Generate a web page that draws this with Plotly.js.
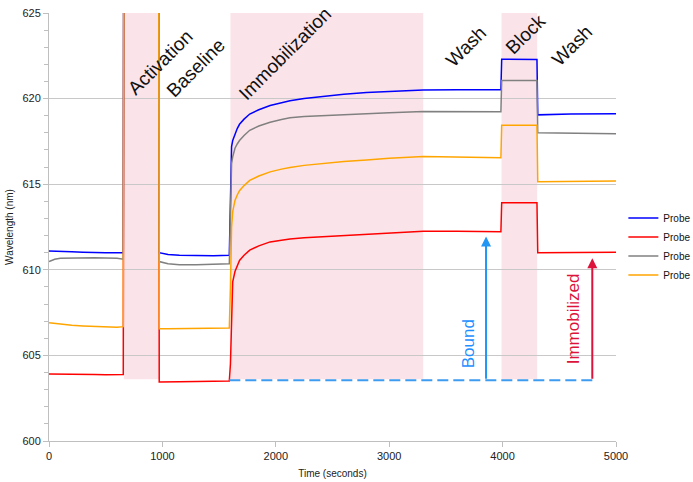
<!DOCTYPE html>
<html>
<head>
<meta charset="utf-8">
<script src="https://cdn.plot.ly/plotly-3.0.1.min.js"></script>
<style>html,body{margin:0;padding:0;background:#fff;}#chart{width:693px;height:482px;}</style>
</head>
<body>
<div id="chart"></div>
<script>
// Time (seconds)
const timeSec = [0, 50, 100, 200, 300, 400, 500, 600, 655, 661, 967, 972, 1050, 1150, 1300, 1450,
  1590, 1600, 1610, 1620, 1640, 1660, 1680, 1720, 1770, 1850, 1950, 2050, 2125, 2250, 2400, 2600, 2800, 3000, 3300,
  3600, 3985, 3992, 4303, 4310, 4600, 5000];
// Wavelength (nm) per probe
const probeBlue   = [611.1, 611.08, 611.07, 611.05, 611.03, 611.0, 611.0, 610.99, 611.0, 640, 640, 611.0, 610.9, 610.85, 610.83, 610.82,
  610.85, 614.0, 617.2, 617.55, 617.95, 618.25, 618.5, 618.8, 619.1, 619.35, 619.6, 619.76, 619.87, 620.0, 620.12, 620.25, 620.35, 620.42, 620.5,
  620.52, 620.52, 622.3, 622.28, 619.05, 619.1, 619.12];
const probeRed    = [603.92, 603.91, 603.9, 603.9, 603.89, 603.88, 603.87, 603.86, 603.88, 640, 640, 603.45, 603.44, 603.46, 603.47, 603.48,
  603.5, 604.5, 607.0, 609.3, 609.9, 610.28, 610.55, 610.85, 611.15, 611.4, 611.63, 611.73, 611.8, 611.87, 611.93, 612.0, 612.08, 612.15, 612.25,
  612.25, 612.22, 613.92, 613.92, 611.0, 611.02, 611.03];
const probeGray   = [610.48, 610.62, 610.68, 610.7, 610.7, 610.7, 610.69, 610.68, 610.62, 640, 640, 610.48, 610.35, 610.3, 610.3, 610.32,
  610.35, 613.0, 616.2, 616.6, 617.1, 617.35, 617.55, 617.85, 618.15, 618.4, 618.62, 618.78, 618.88, 618.95, 619.0, 619.07, 619.12, 619.18, 619.25,
  619.25, 619.23, 621.05, 621.05, 618.0, 617.97, 617.95];
const probeOrange = [606.9, 606.86, 606.84, 606.76, 606.72, 606.7, 606.66, 606.64, 606.68, 640, 640, 606.55, 606.55, 606.56, 606.56, 606.58,
  606.6, 609.0, 612.5, 613.4, 614.05, 614.37, 614.62, 614.92, 615.22, 615.48, 615.72, 615.88, 615.98, 616.1, 616.2, 616.32, 616.42, 616.52, 616.62,
  616.6, 616.55, 618.45, 618.45, 615.15, 615.17, 615.18];
const seriesNames = ["Probe", "Probe", "Probe", "Probe"];

// Shaded phases [start, end] in seconds
const shadedPhases = [[660, 970], [1600, 3300], [3990, 4305]];
const shadeBottom = 603.6;
// Phase labels
const phaseLabels = ["Activation", "Baseline", "Immobilization", "Wash", "Block", "Wash"];
const phaseLabelX = [979, 1296, 2081, 3677, 4198, 4612];
const phaseLabelY = [622.12, 621.83, 622.65, 623.05, 623.76, 623.11];

// Reference level and arrows
const refLevel = 603.55;
const refStart = 1590, refEnd = 4800;
const boundArrowX = 3854, boundArrowTop = 611.95;
const immobArrowX = 4791, immobArrowTop = 610.68;

const colors = ["#0000ff", "#ff0000", "#808080", "#ffa500"];
const ys = [probeBlue, probeRed, probeGray, probeOrange];
const FONT = "Liberation Sans, Arial, sans-serif";

const traces = ys.map((y, i) => ({
  x: timeSec, y: y, type: "scatter", mode: "lines", name: seriesNames[i],
  line: {color: colors[i], width: 1.5}
}));

const shapes = shadedPhases.map(p => ({
  type: "rect", xref: "x", yref: "y", x0: p[0], x1: p[1], y0: shadeBottom, y1: 625,
  fillcolor: "#fbe4e9", line: {width: 0}, layer: "below"
}));
shapes.push({type: "line", xref: "x", yref: "y", x0: refStart, x1: refEnd, y0: refLevel, y1: refLevel,
  line: {color: "#3d9cf0", width: 2, dash: "11px,5px"}});

const annotations = phaseLabels.map((t, i) => ({
  text: t, x: phaseLabelX[i], y: phaseLabelY[i], xref: "x", yref: "y", showarrow: false,
  textangle: -45, font: {family: FONT, size: 19, color: "#111"}, xanchor: "center", yanchor: "middle"
}));
annotations.push({text: "", x: boundArrowX, y: boundArrowTop, ax: boundArrowX, ay: refLevel,
  xref: "x", yref: "y", axref: "x", ayref: "y", showarrow: true, arrowhead: 2, arrowsize: 1, arrowwidth: 2, arrowcolor: "#2196f3"});
annotations.push({text: "", x: immobArrowX, y: immobArrowTop, ax: immobArrowX, ay: refLevel,
  xref: "x", yref: "y", axref: "x", ayref: "y", showarrow: true, arrowhead: 2, arrowsize: 1, arrowwidth: 2, arrowcolor: "#dc143c"});
annotations.push({text: "Bound", x: 3695, y: 605.65, xref: "x", yref: "y", showarrow: false, textangle: -90,
  font: {family: FONT, size: 17, color: "#1e90ff"}});
annotations.push({text: "Immobilized", x: 4621, y: 607.11, xref: "x", yref: "y", showarrow: false, textangle: -90,
  font: {family: FONT, size: 17, color: "#dc143c"}});

const layout = {
  width: 693, height: 482,
  margin: {l: 49, r: 77, t: 13, b: 41, autoexpand: false},
  paper_bgcolor: "#fff", plot_bgcolor: "#fff",
  font: {family: FONT, size: 11, color: "#222"},
  showlegend: true,
  legend: {x: 1.013, y: 0.555, xanchor: "left", yanchor: "top", font: {size: 10, color: "#111"},
    bgcolor: "rgba(0,0,0,0)", tracegroupgap: 0},
  xaxis: {
    range: [0, 5000], dtick: 1000, tick0: 0, showgrid: false, zeroline: false,
    showline: true, linecolor: "#bfbfbf", linewidth: 1, ticks: "outside", ticklen: 5, tickcolor: "#bfbfbf",
    tickfont: {size: 11, color: "#222"},
    title: {text: "Time (seconds)", font: {size: 10, color: "#222"}, standoff: 8}
  },
  yaxis: {
    range: [600, 625], dtick: 5, tick0: 600, showgrid: true, gridcolor: "#c8c8c8", zeroline: false,
    showline: true, linecolor: "#bfbfbf", linewidth: 1, ticks: "outside", ticklen: 5, tickcolor: "#bfbfbf",
    minor: {dtick: 1, ticks: "outside", ticklen: 4, tickcolor: "#bfbfbf", showgrid: false},
    tickfont: {size: 11, color: "#222"},
    title: {text: "Wavelength (nm)", font: {size: 10, color: "#222"}, standoff: 6}
  },
  shapes: shapes,
  annotations: annotations
};

Plotly.newPlot("chart", traces, layout, {displayModeBar: false, staticPlot: true});
</script>
</body>
</html>
